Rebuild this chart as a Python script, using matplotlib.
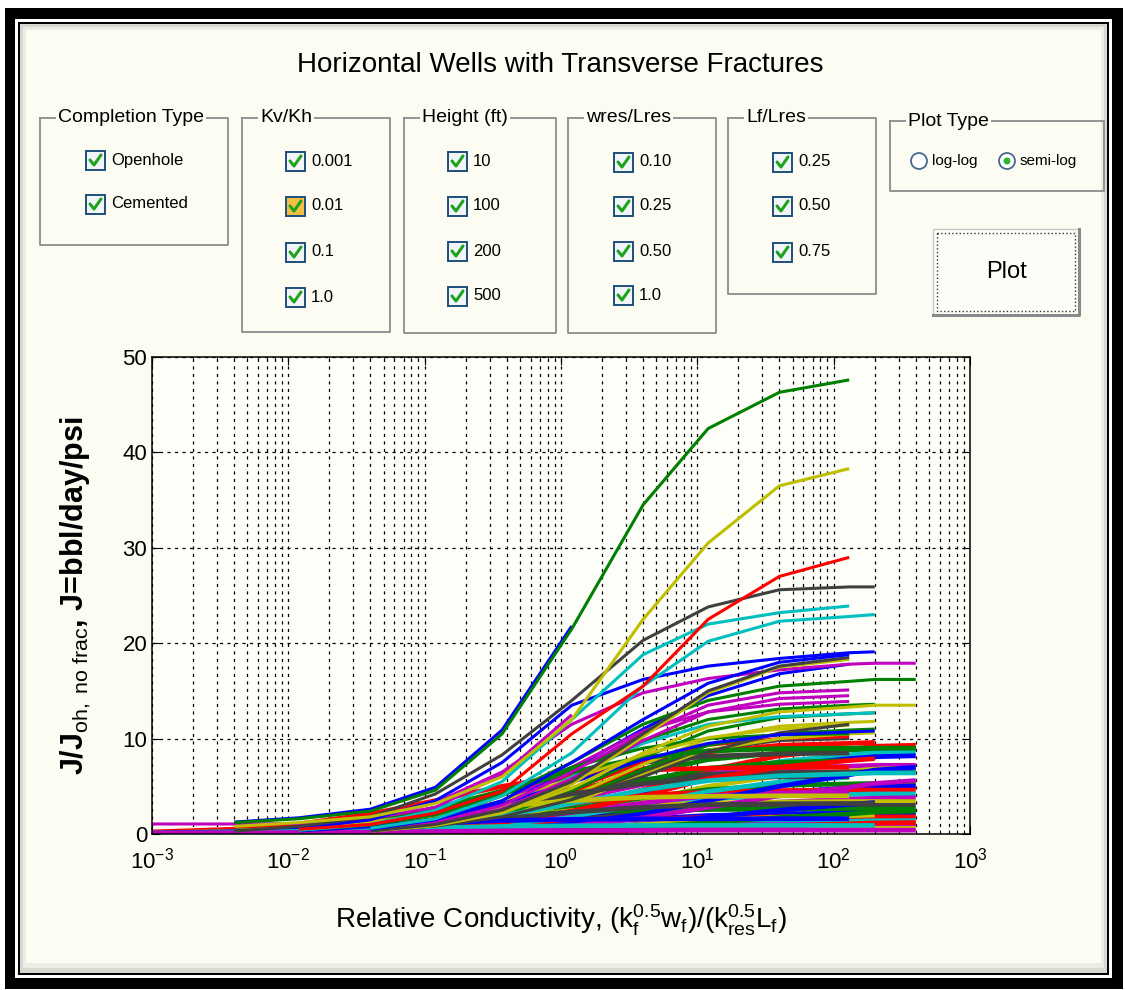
import numpy as np
import matplotlib
matplotlib.use('Agg')
import matplotlib.pyplot as plt
from matplotlib.patches import Rectangle, Circle
from matplotlib.ticker import LogLocator, NullFormatter, FixedLocator

n = np.nan

# x points shared by all curves (relative conductivity)
rel_cond = [1e-3, 4e-3, 1.2e-2, 4e-2, 0.12, 0.37, 1.2, 4, 12, 40, 130, 200, 400]

# J/J_oh of each plotted case (nan = no point), lower band first, top curves last
j_ratio = [
    [n, n, n, 0.28, 0.65, 1.4, 2.8, 4.65, 6.7, 8.2, 8.9, 9.2, 9.3],
    [n, n, 0.27, 0.62, 1.34, 2.67, 4.45, 6.4, 7.8, 8.5, 8.8, 8.9, 8.9],
    [n, n, n, 0.26, 0.6, 1.3, 2.6, 4.3, 6.2, 7.6, 8.3, 8.5, 8.6],
    [n, n, n, 0.24, 0.57, 1.2, 2.4, 4.1, 5.9, 7.2, 7.9, 8.1, 8.2],
    [n, n, 0.22, 0.5, 1.1, 2.2, 3.6, 5.2, 6.3, 6.9, 7.1, 7.2, 7.2],
    [n, n, n, 0.21, 0.48, 1.0, 2.1, 3.45, 5.0, 6.1, 6.6, 6.8, 6.9],
    [n, 0.2, 0.45, 0.98, 1.95, 3.25, 4.7, 5.7, 6.25, 6.45, 6.5, 6.5, 6.5],
    [n, n, 0.16, 0.37, 0.8, 1.6, 2.65, 3.8, 4.65, 5.1, 5.25, 5.3, 5.3],
    [n, n, n, 0.15, 0.35, 0.75, 1.5, 2.5, 3.6, 4.4, 4.8, 4.95, 5.0],
    [n, 0.14, 0.32, 0.7, 1.4, 2.3, 3.3, 4.05, 4.4, 4.55, 4.6, 4.6, 4.6],
    [n, n, 0.13, 0.29, 0.63, 1.26, 2.1, 3.0, 3.7, 4.0, 4.15, 4.2, 4.2],
    [n, n, n, 0.11, 0.27, 0.57, 1.14, 1.9, 2.75, 3.35, 3.65, 3.75, 3.8],
    [n, 0.1, 0.24, 0.51, 1.0, 1.7, 2.45, 3.0, 3.25, 3.35, 3.4, 3.4, 3.4],
    [n, n, 0.09, 0.21, 0.45, 0.9, 1.5, 2.15, 2.65, 2.9, 2.97, 3.0, 3.0],
    [0.08, 0.18, 0.39, 0.78, 1.3, 1.87, 2.29, 2.5, 2.57, 2.6, 2.6, 2.6, 2.6],
    [n, n, 0.07, 0.15, 0.33, 0.66, 1.1, 1.58, 1.94, 2.1, 2.18, 2.2, 2.2],
    [n, 0.05, 0.13, 0.27, 0.54, 0.9, 1.3, 1.58, 1.73, 1.78, 1.8, 1.8, 1.8],
    [n, n, n, 0.04, 0.1, 0.21, 0.42, 0.7, 1.0, 1.23, 1.34, 1.39, 1.4],
    [n, 0.03, 0.07, 0.15, 0.3, 0.5, 0.72, 0.88, 0.96, 0.99, 1.0, 1.0, 1.0],
    [0.2, 0.2, 0.22, 0.25, 0.3, 0.38, 0.46, 0.53, 0.57, 0.59, 0.6, 0.6, 0.6],
    # middle cases
    [n, n, n, 0.3, 0.8, 2.0, 4.2, 6.8, 8.6, 9.3, 9.5, 9.6, n],
    [n, n, 0.23, 0.55, 1.17, 2.34, 3.9, 5.6, 6.9, 7.5, 7.7, n, n],
    [n, n, n, 0.19, 0.43, 0.93, 1.86, 3.1, 4.46, 5.46, 5.95, n, n],
    [n, 0.26, 0.6, 1.28, 2.55, 4.25, 6.1, 7.5, 8.15, 8.4, 8.5, n, n],
    [n, n, n, n, 0.1, 0.25, 0.53, 1.05, 1.75, 2.5, 3.1, 3.3, n],
    [n, n, 0.14, 0.32, 0.68, 1.35, 2.25, 3.25, 4.0, 4.3, 4.45, n, n],
    [n, n, n, 0.06, 0.14, 0.3, 0.6, 1.0, 1.44, 1.76, 1.92, 1.98, n],
    [0.21, 0.5, 1.05, 2.1, 3.5, 5.0, 6.2, 6.7, 6.9, 7.0, 7.0, n, n],
    [n, n, n, n, 0.5, 1.5, 3.5, 6.5, 8.8, 9.8, 10.0, n, n],
    [n, n, n, 0.3, 0.9, 2.2, 4.6, 7.5, 9.3, 10.0, 10.2, n, n],
    [n, n, n, n, 0.5, 1.4, 3.2, 6.2, 8.8, 10.0, 10.5, 10.6, n],
    [n, n, n, 0.2, 0.6, 1.6, 3.6, 6.8, 9.3, 10.5, 10.9, 11.0, n],
    [n, n, n, 0.2, 0.7, 1.8, 4.0, 7.3, 10.0, 11.3, 11.7, 11.8, n],
    [n, n, n, 0.3, 0.8, 2.0, 4.5, 8.0, 10.8, 12.2, 12.6, 12.7, n],
    [n, n, n, 0.4, 1.2, 3.0, 6.8, 11.0, 14.5, 16.8, 17.8, n, n],
    [n, n, n, 0.5, 1.4, 3.4, 7.0, 10.8, 12.8, 13.6, 13.9, n, n],
    [n, n, n, 0.3, 1.0, 2.6, 6.0, 9.5, 11.5, 12.3, 12.6, 12.7, n],
    [n, n, 0.4, 1.0, 2.2, 4.2, 7.0, 9.0, 10.0, 10.4, 10.5, n, n],
    [n, 0.35, 0.5, 0.9, 1.6, 2.8, 4.2, 5.3, 5.8, 6.0, 6.0, n, n],
    [n, 0.27, 0.62, 1.3, 2.7, 4.5, 6.5, 8.0, 8.7, 8.95, 9.0, 9.0, 9.0],
    [n, n, n, n, 0.2, 0.49, 1.05, 2.1, 3.5, 5.0, 6.2, 6.7, 7.0],
    [n, n, 0.1, 0.24, 0.56, 1.2, 2.4, 4.0, 5.8, 7.0, 7.7, 7.9, n],
    [n, n, 0.19, 0.45, 0.96, 1.9, 3.2, 4.6, 5.6, 6.1, 6.3, 6.4, 6.4],
    [n, n, n, 0.06, 0.17, 0.39, 0.84, 1.7, 2.8, 4.0, 4.9, 5.3, 5.6],
    [0.12, 0.28, 0.6, 1.2, 2.0, 2.9, 3.5, 3.85, 3.95, 4.0, 4.0, n, n],
    [n, 0.1, 0.22, 0.48, 0.96, 1.6, 2.3, 2.8, 3.07, 3.17, 3.2, 3.2, n],
    [n, n, n, n, 0.07, 0.17, 0.36, 0.72, 1.2, 1.73, 2.1, 2.3, 2.4],
    [0.11, 0.24, 0.48, 0.8, 1.15, 1.41, 1.54, 1.58, 1.6, 1.6, 1.6, n, n],
    [n, n, n, n, 0.04, 0.08, 0.18, 0.36, 0.6, 0.86, 1.06, 1.15, 1.2],
    [0.06, 0.14, 0.27, 0.45, 0.65, 0.79, 0.86, 0.89, 0.9, 0.9, 0.9, 0.9, n],
    [0.1, 0.12, 0.15, 0.2, 0.26, 0.32, 0.36, 0.38, 0.4, 0.4, 0.4, 0.4, 0.4],
    [n, n, 0.35, 0.8, 1.7, 3.45, 5.75, 8.3, 10.1, 11.0, 11.4, n, n],
    [n, n, n, 0.36, 0.84, 1.8, 3.6, 6.0, 8.6, 10.6, 11.5, n, n],
    [n, n, 0.32, 0.76, 1.6, 3.2, 5.4, 7.8, 9.5, 10.4, 10.7, 10.8, n],
    [n, n, 0.4, 0.95, 2.0, 4.1, 6.8, 9.8, 12.0, 13.1, 13.5, 13.6, n],
    # upper cases
    [1.05, 1.05, 1.1, 1.6, 2.8, 6.2, 12.5, n, n, n, n, n, n],
    [n, n, n, 0.3, 0.9, 2.2, 4.8, 8.5, 11.3, 12.8, 13.3, 13.5, 13.5],
    [n, n, n, 0.3, 1.0, 2.6, 5.8, 9.8, 12.8, 14.2, 14.5, n, n],
    [n, n, n, 0.4, 1.2, 3.0, 6.5, 10.5, 13.5, 14.8, 15.1, n, n],
    [n, n, n, 0.6, 1.6, 4.0, 7.5, 11.5, 14.0, 15.5, 16.0, 16.2, 16.2],
    [n, n, 0.6, 1.5, 3.3, 6.5, 11.5, 14.8, 16.3, 17.2, 17.8, 17.9, 17.9],
    [n, n, n, 0.3, 0.9, 2.3, 5.2, 10.2, 14.8, 17.5, 18.3, n, n],
    [n, n, n, 0.3, 1.0, 2.5, 5.5, 10.5, 15.0, 17.6, 18.5, n, n],
    [n, n, n, 0.5, 1.5, 3.5, 7.5, 12.0, 15.8, 18.0, 18.8, n, n],
    [n, n, 0.6, 1.5, 3.5, 7.5, 13.5, 16.2, 17.6, 18.4, 19.0, 19.1, n],
    [n, n, n, 0.6, 1.6, 4.0, 8.5, 15.5, 20.2, 22.3, 22.8, 23.0, n],
    [n, n, 0.4, 1.0, 2.5, 5.5, 12.0, 18.8, 22.0, 23.2, 23.9, n, n],
    [n, 0.3, 0.8, 1.8, 4.2, 8.3, 14.0, 20.3, 23.8, 25.6, 25.9, 25.9, n],
    [n, n, 0.5, 1.0, 2.2, 4.5, 10.5, 15.5, 22.5, 27.0, 29.0, n, n],
    [n, 0.8, 1.2, 1.8, 3.2, 6.0, 12.0, 22.5, 30.5, 36.5, 38.3, n, n],
    [n, 1.25, 1.7, 2.6, 4.9, 10.9, 21.8, n, n, n, n, n, n],
    [n, 1.2, 1.6, 2.4, 4.6, 10.5, 21.5, 34.5, 42.5, 46.3, 47.6, n, n],
]
curve_colors = ('rgcbmykgbrcmykgbrcmy'
                'rgckbmyrkrygygbmcgk'
                'gbrcmykgbrcmykbg'
                'mymmgmykbbcckrybg')

completion_types = ['Openhole', 'Cemented']
kv_kh = ['0.001', '0.01', '0.1', '1.0']
heights_ft = ['10', '100', '200', '500']
wres_lres = ['0.10', '0.25', '0.50', '1.0']
lf_lres = ['0.25', '0.50', '0.75']
plot_types = ['log-log', 'semi-log']

matlab_rgb = {'b': '#0000ff', 'g': '#008000', 'r': '#ff0000', 'c': '#00bfbf',
              'm': '#bf00bf', 'y': '#bfbf00', 'k': '#404040'}

ui_font = 'Liberation Sans'
plt.rcParams['font.family'] = [ui_font, 'DejaVu Sans']
plt.rcParams['mathtext.fontset'] = 'custom'
plt.rcParams['mathtext.rm'] = ui_font
plt.rcParams['mathtext.it'] = ui_font + ':italic'
plt.rcParams['mathtext.bf'] = ui_font + ':bold'

W, H = 1125, 990
cream = '#fcfcf3'
fig = plt.figure(figsize=(W / 100, H / 100), dpi=100, facecolor='white')

# window chrome drawn in pixel coordinates
bg = fig.add_axes([0, 0, 1, 1], zorder=-1)
bg.set_xlim(0, W)
bg.set_ylim(H, 0)
bg.axis('off')
bg.add_patch(Rectangle((5, 8), 1118, 981, fc='black', ec='none'))
bg.add_patch(Rectangle((15, 19), 1097, 959, fc='white', ec='none'))
bg.add_patch(Rectangle((18, 22), 1091, 953, fc='black', ec='none'))
bg.add_patch(Rectangle((20, 24), 1087, 949, fc='#d8d8d0', ec='none'))
bg.add_patch(Rectangle((23, 27), 1081, 941, fc='#ecece4', ec='none'))
bg.add_patch(Rectangle((26, 30), 1075, 933, fc=cream, ec='none'))

bg.text(560, 65, 'Horizontal Wells with Transverse Fractures', ha='center',
        va='center', fontsize=20)


def group_box(x0, y0, x1, y1, title):
    bg.plot([x0, x1, x1, x0, x0], [y0, y0, y1, y1, y0], color='#8c8c8c', lw=1.3)
    bg.text(x0 + 18, y0, title, ha='left', va='center', fontsize=14,
            bbox=dict(fc=cream, ec='none', pad=1.5))


def checkbox(x0, yc, label, hot=False):
    s = 19
    bg.add_patch(Rectangle((x0, yc - s / 2), s, s, fc='#f5bf45' if hot else '#f2f5f8',
                           ec='#1d4f7c', lw=1.4))
    bg.plot([x0 + 4, x0 + 8, x0 + 15], [yc, yc + 5, yc - 5], color='#1fa31f',
            lw=2.2, solid_capstyle='round')
    bg.text(x0 + s + 6, yc, label, ha='left', va='center', fontsize=12)


group_box(40, 118, 228, 245, 'Completion Type')
for lab, yc in zip(completion_types, [160, 204]):
    checkbox(86, yc, lab)

group_box(242, 118, 390, 332, 'Kv/Kh')
for i, (lab, yc) in enumerate(zip(kv_kh, [161, 206, 252, 297])):
    checkbox(286, yc, lab, hot=(i == 1))

group_box(404, 118, 556, 333, 'Height (ft)')
for lab, yc in zip(heights_ft, [161, 206, 251, 296]):
    checkbox(448, yc, lab)

group_box(568, 118, 716, 333, 'wres/Lres')
for lab, yc in zip(wres_lres, [162, 206, 251, 295]):
    checkbox(614, yc, lab)

group_box(728, 118, 876, 294, 'Lf/Lres')
for lab, yc in zip(lf_lres, [162, 206, 252]):
    checkbox(773, yc, lab)

group_box(890, 121, 1104, 191, 'Plot Type')
for i, (lab, xc) in enumerate(zip(plot_types, [919, 1007])):
    bg.add_patch(Circle((xc, 161), 8, fc='white', ec='#47698c', lw=1.3))
    if i == 1:
        bg.add_patch(Circle((xc, 161), 3.5, fc='#2fb52f', ec='none'))
    bg.text(xc + 13, 161, lab, ha='left', va='center', fontsize=11)

# Plot button
bg.add_patch(Rectangle((933, 229), 146, 86, fc='#fdfdf8', ec='#c8c8c8', lw=1))
bg.plot([933, 1079, 1079], [315, 315, 229], color='#8a8a8a', lw=2.2)
bg.add_patch(Rectangle((937, 233), 138, 78, fc='none', ec='#333333', lw=1, ls=':'))
bg.text(1006, 272, 'Plot', ha='center', va='center', fontsize=17)

# the chart
ax = fig.add_axes([152 / W, 1 - 834 / H, (970 - 152) / W, (834 - 357) / H])
ax.set_facecolor('#fefef8')
for ys, c in zip(j_ratio, curve_colors):
    lw = 3.4 if max(v for v in ys if v == v) < 10 else 2.2
    ax.plot(rel_cond, ys, color=matlab_rgb[c], lw=lw, solid_capstyle='butt')

ax.set_xscale('log')
ax.set_xlim(1e-3, 1e3)
ax.set_ylim(0, 50)
ax.yaxis.set_major_locator(FixedLocator([0, 10, 20, 30, 40, 50]))
ax.xaxis.set_major_locator(LogLocator(base=10, numticks=10))
ax.xaxis.set_minor_locator(LogLocator(base=10, subs=np.arange(2, 10), numticks=20))
ax.xaxis.set_minor_formatter(NullFormatter())
ax.set_axisbelow(True)
ax.grid(True, which='both', axis='x', color='black', lw=0.9, ls=(0, (2.5, 3.5)))
ax.grid(True, which='major', axis='y', color='black', lw=0.9, ls=(0, (2.5, 3.5)))
ax.tick_params(which='both', direction='in', top=True, right=True, labelsize=16)
ax.tick_params(which='major', length=6)
ax.tick_params(which='minor', length=3)
ax.tick_params(axis='x', pad=10)
for sp in ax.spines.values():
    sp.set_linewidth(1.1)

ax.set_xlabel(r'Relative Conductivity, (k$_\mathrm{f}^{0.5}$w$_\mathrm{f}$)/(k$_\mathrm{res}^{0.5}$L$_\mathrm{f}$)',
              fontsize=20)
ax.xaxis.set_label_coords(0.5, -0.145)
ax.set_ylabel(r'J/J$_\mathrm{oh,\ no\ frac}$, J=bbl/day/psi', fontsize=22,
              fontweight='bold')
ax.yaxis.set_label_coords(-0.072, 0.5)

fig.savefig('out.png', dpi=100, facecolor=fig.get_facecolor())
